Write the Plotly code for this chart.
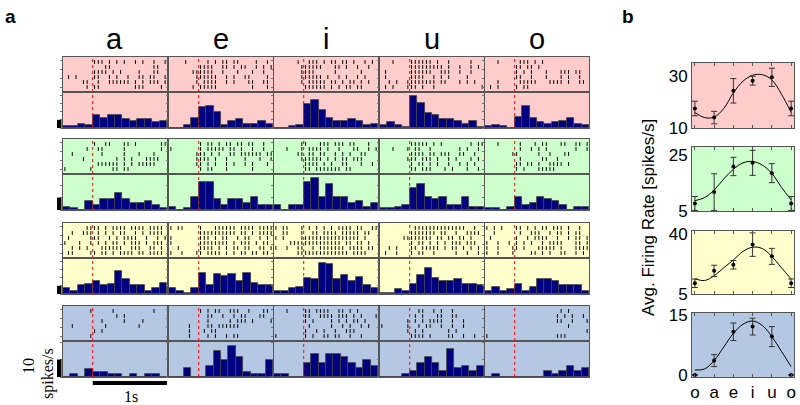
import plotly.graph_objects as go

W, H = 800, 405

vowels = ['a', 'e', 'i', 'u', 'o']
bin_centers = [-0.35, -0.25, -0.15, -0.05, 0.05, 0.15, 0.25, 0.35, 0.45, 0.55, 0.65, 0.75, 0.85, 0.95]

# PSTH (spikes/s), one list per vowel, per neuron
rate_pink = [
    [2.5, 2.5, 5.4, 3.8, 15.4, 12, 15.4, 15.4, 10.4, 8.8, 10.4, 10.4, 7.1, 8.8],
    [0, 0, 3.3, 12, 25.4, 27, 20, 3.3, 8.8, 10.4, 5, 5, 8.8, 5],
    [0, 0, 2, 3.3, 28.8, 33.8, 22, 12, 8.8, 8.8, 10.4, 8.8, 3.8, 5.4],
    [3.8, 7.1, 3.8, 1.7, 38.8, 30.4, 18.8, 15.4, 10.4, 10.4, 8.8, 5.4, 8.8, 1.7],
    [2, 3.8, 2, 0, 13.8, 27, 12, 7.1, 5.4, 7.1, 8.8, 12, 5.4, 3.8],
]
rate_green = [
    [2.8, 1.7, 0, 7.5, 4.2, 9.2, 9.2, 13.6, 9.2, 5.8, 5.8, 7.5, 4.2, 1.7],
    [2.8, 0, 1.7, 10.3, 22.8, 22.8, 9.2, 4.2, 9.2, 9.2, 5.8, 10.8, 4.2, 4.2],
    [4.2, 0, 4.2, 4.2, 22.8, 25.6, 10.3, 20.8, 10.3, 10.3, 5.8, 7.5, 2.8, 5.8],
    [1.7, 1.7, 2.8, 4.2, 18, 20.8, 10.3, 9.2, 10.8, 4.2, 4.2, 10.3, 2.8, 2.8],
    [1.7, 1.7, 0, 2.8, 10.3, 4.2, 5.8, 10.3, 9.2, 7.5, 4.2, 0, 2.8, 2.8],
]
rate_yellow = [
    [7.1, 3.3, 10.4, 12, 15.4, 10.4, 12, 27.9, 18.8, 10.4, 10.4, 4.2, 7.1, 13.8],
    [7.1, 3.3, 1.7, 7.1, 26.2, 10.4, 24.6, 22, 24.6, 15.4, 26.2, 13.8, 10.4, 10.4],
    [4.2, 4.2, 7.1, 8.8, 19.6, 18.8, 38.3, 36.7, 17.9, 22.9, 16.2, 21.2, 10.4, 7.1],
    [1.7, 1.7, 6.2, 3.3, 12, 22.9, 32, 19.6, 16.2, 15.4, 18.8, 12, 12, 10.4],
    [4.2, 8.8, 3.3, 5.8, 12, 3.3, 8.8, 17.9, 17.9, 16.2, 10.4, 10.4, 10.4, 4.2],
]
rate_blue = [
    [0, 1.6, 0, 4.5, 2.9, 2.9, 1.6, 1.6, 0, 1.6, 0, 1.6, 1.6, 0],
    [0, 0, 4.9, 0, 0, 6.5, 14.7, 9.8, 18, 11.4, 2.9, 1.6, 1.6, 9.8],
    [1.6, 1.6, 0, 0, 8.2, 13.1, 8.2, 13.1, 13.1, 11.4, 8.2, 4.9, 9.8, 6.5],
    [0, 0, 0, 1.6, 3.3, 8.2, 11.4, 8.2, 3.3, 16.3, 4.9, 6.5, 3.3, 6.5],
    [0, 1.6, 0, 0, 0, 0, 0, 0, 3.3, 1.6, 3.3, 6.5, 3.3, 4.9],
]
psth_ymax = [44, 29, 44, 20.6]

# spike rasters: 6 trials, each char = 50 ms from -0.4 s to 1.0 s, '|' = spike
raster_pink = [
    ["........|||.|.|.|..|.|..|..|", "...........||...........||..", "........||||.|.|....|...||..",
     ".|.|....||..|.|..|..||.||..|", ".....||..|..||||||.|.|.|||.|", "......|.||.........|||....|."],
    ["....|.....|.|.||.||....|..|.", "........||||..||.|.||..|.|.|", "......||||||..|...|...|..|..",
     ".......||||||..|.|..||....|.", ".......|.||||..|.|...||..||.", "......|.|||||.........|...|."],
    ["......|..|||.|.||.||.|..|.|.", ".......||||||...||.|..|..|..", ".......||||.....|......|....",
     ".......||||||.|..|.|..|.|...", ".......|.|||||.||.|.||.|.|..", "........||||||.|.|.||.||...."],
    ["...|....||||||.|..|.....|...", "........|||||||||.|..|..|.|.", ".|......||||||..|||..|..|...",
     ".|......||||..|.|.|....|....", "..|.|..||||||||.||...|.|.|..", ".|.|...|||.|..|............|"],
    ["...|.....|||.|.|............", "........||.||.|.............", "........|.|.|...|...|||.||..",
     "........||..|...|...|.|..|..", "...|.....|||||...||||.|..||.", ".|.|....|.||................"],
]
raster_green = [
    ["........|..||...||.|......||", "......|..||.....|.........|.", "..|.......|.....|...|...|...",
     ".....|........|.|.|...||||..", ".........||||||.|.|.|||||...", "|......|.....||.||.........."],
    ["........|.||.|.||.||.||..|..", "|.......|.|||||.||.|..|..|..", ".......|||.|.|..||.||||||.||",
     ".......||||.|..|....|...|..|", ".......||.|.|..|.|..|.|...|.", "........|.||...|......|....."],
    [".......||...|||.|||.||...|..", "...|...|.||||.|..|...||..|.|", "......||.||.||..|.|.|..||...",
     ".......||||||.|.|.||.|||....", "........||||.|.|..||...|..|.", "........||.|||||||.||......."],
    ["........|||||.|.|.......|.||", "...|...|.||..|.......|.|..|.", "........||||.||.|||..||..|..",
     ".......|||.|||.|..|.|...|.|.", "........|.||.|.|..|..|.|.|..", "........||.|||...|.|...|..|."],
    ["...|.....|...|.||...||..||.|", ".........|..|.|.|.......|..|", ".......||.....|..|...||.....",
     ".........|.....||..|........", "........||.||.|..||||.|.....", "........|.|...|||||........."],
]
raster_yellow = [
    ["......||||.|.||||.||||.||||.", "..|..|||.|.|.|.||..|.|.||||.", ".|.....|||..|.|.||||..|..|.|",
     "|...|..|.|.|.||.|.|||.|.|||.", "..|.|.|...||||||..|||..||.|.", ".||....||.||.|.||||.||.||||."],
    ["|.||....|...||||||.||||.||||", "........||||||||||.||.|.||||", "|.......|||.|.||..|.||..|.|.",
     "|.......||||||||.|.|||.|.||.", "..|.....||||.|.|.||.||..||.|", "|..|...||.||||.|.|.||.||.||."],
    ["|.||...|.|.|.|.|.||||.||..||", "..||...|..||.||||.|||||.||..", "|.|....||||||||||||||||.|...",
     "....||||||||||||||.||.||.|..", "|..|..||..|.|||||||.||||.||.", "......||||||||||||||.||||..."],
    [".........||||||||||||||..|..", "........|||||||.||..|..||||.", "......||||||||.||.||.||.|...",
     "........|.||.|.|.|.|||.|||..", "..|.|...||.|||||.|.||.|.|.|.", ".|..|...|.||..|.....|..|..|."],
    ["|.|.|...||.|.|.||.|||.|..|..", "..|......|..|||..|.||.|.||..", ".|......|..|.||||..|..|.||.|",
     "|..|..|.|.|.|..|.||||...||.|", "|..|...||.|...|||||.|...||||", "|..|...|....||.|.|..||..|.|."],
]
raster_blue = [
    [".......|.....|..........|...", "..............|.|...........", "..........|.....|....|......",
     "..|........|........|.......", "........|.|.................", ".......|...................."],
    ["........|.|.||..|||..|...||.", "..........||..|..|.||...||..", "..........|.....|.|||.|....|",
     ".....|....||.||||||.........", ".....|...|.||...............", ".....|....|.|..|.||........."],
    ["...|....||.||||..||.|.|.....", "........||..||||.|||.|.|...|", "........|.|....|.|.|.||.|...",
     ".........|.....|..|.|..|.|..", "........|..|.|..|..|||......", "|.......|.|..||.||..|..|...."],
    ["..........||..|.|..|........", ".........|.|...||..||.......", ".......|.|.|.||||..|..|.....",
     "|......|..|.||..|..|..|.....", ".......|.|.|......|.|.......", "........||||.|....||..|..|.."],
    ["....................|.|.....", "...................|.|.|..|.", "...................||..|...|",
     "......................|.....", "...........................|", "|..................|||......"],
]

# tuning curves (panel b)
tuning_labels = ['o', 'a', 'e', 'i', 'u', 'o']
tuning_x = [0, 1, 2, 3, 4, 5]
mean_pink = [17.5, 14, 24.3, 28.2, 29.5, 17.5]
err_pink = [2.8, 2.4, 4.7, 1.7, 3.5, 2.8]
mean_green = [7.7, 11.8, 21, 22.3, 18.6, 7.7]
err_green = [2.5, 6.6, 3.3, 4.5, 3.4, 2.5]
mean_yellow = [11.3, 18.6, 22.2, 34, 27.1, 11.3]
err_yellow = [2.5, 3.3, 2.5, 6.9, 4.7, 2.5]
mean_blue = [0, 3.6, 10.8, 12.1, 9.6, 0]
err_blue = [0, 1.5, 2.2, 2.1, 2.5, 0]
fit_x = [0, 0.5, 1, 1.5, 2, 2.5, 3, 3.5, 4, 4.5, 5]
fit_pink = [16, 14, 14.2, 17.5, 23.5, 28, 30.3, 30.5, 28.5, 23, 16]
fit_green = [8.7, 9.8, 12.5, 16.5, 20, 22.3, 22.8, 21.5, 18.5, 13.5, 9]
fit_yellow = [13.9, 12.9, 15.7, 20.4, 25, 30, 32.5, 31.7, 27, 20.4, 13.9]
fit_blue = [1.25, 1.5, 3.6, 7, 10.4, 12.7, 13.5, 12.4, 9.6, 5.9, 2.1]
tuning_ranges = [[10, 35], [5, 28], [5, 42], [-0.5, 15.5]]
tuning_ticks = [[10, 30], [5, 25], [5, 40], [0, 15]]

bg_colors = ['#FFCCCC', '#CCFFCC', '#FFFFCC', '#B4C8E4']
rates = [rate_pink, rate_green, rate_yellow, rate_blue]
rasters = [raster_pink, raster_green, raster_yellow, raster_blue]
means = [mean_pink, mean_green, mean_yellow, mean_blue]
errs = [err_pink, err_green, err_yellow, err_blue]
fits = [fit_pink, fit_green, fit_yellow, fit_blue]

# pixel geometry
col_left = [63, 169, 274, 380, 485]
col_w = 104
row_top = [57, 139, 223, 306]
b_left, b_right = 692, 794
b_top = [63, 147, 231, 313]
b_bot = [128, 211, 294, 377]

fig = go.Figure()
layout = {}
shapes = []
annotations = []
axn = [0]


def px_x(x):
    return x / W


def px_y(y):
    return 1 - y / H


def new_axes(x0, x1, y0, y1):
    axn[0] += 1
    s = '' if axn[0] == 1 else str(axn[0])
    layout['xaxis' + s] = dict(domain=[px_x(x0), px_x(x1)], anchor='y' + s)
    layout['yaxis' + s] = dict(domain=[px_y(y1), px_y(y0)], anchor='x' + s)
    return s


def label(text, x, y, size, family='Liberation Sans', angle=0):
    annotations.append(dict(text=text, x=px_x(x), y=px_y(y), xref='paper', yref='paper',
                            xanchor='center', yanchor='middle', showarrow=False, textangle=angle,
                            font=dict(size=size, family=family, color='black')))


frame = dict(showline=True, mirror=True, linecolor='#555', linewidth=1,
             showgrid=False, zeroline=False, showticklabels=False)

for r in range(4):
    top = row_top[r]
    sep = top + 35
    bot = top + 71
    for c in range(5):
        x0 = col_left[c]
        x1 = x0 + col_w
        # raster
        s = new_axes(x0, x1, top, sep)
        layout['xaxis' + s].update(frame, range=[-0.4, 1.0])
        layout['yaxis' + s].update(frame, range=[0, 7], ticks='outside', ticklen=2,
                                   tickvals=[1, 2.75, 4.5, 6.25], tickcolor='#777')
        shapes.append(dict(type='rect', xref='x' + s + ' domain', yref='y' + s + ' domain',
                           x0=0, x1=1, y0=0, y1=1, fillcolor=bg_colors[r], line_width=0, layer='below'))
        xs, ys = [], []
        for k, trial in enumerate(rasters[r][c]):
            n = len(trial)
            yk = 6 - k
            for i, ch in enumerate(trial):
                if ch == '|':
                    t = -0.4 + (i + 0.5) * 1.4 / n
                    xs += [t, t, None]
                    ys += [yk - 0.38, yk + 0.38, None]
        fig.add_trace(go.Scatter(x=xs, y=ys, mode='lines', line=dict(color='black', width=1),
                                 xaxis='x' + s, yaxis='y' + s, hoverinfo='skip', showlegend=False))
        # psth
        s2 = new_axes(x0, x1, sep, bot)
        layout['xaxis' + s2].update(frame, range=[-0.4, 1.0])
        layout['yaxis' + s2].update(frame, range=[0, psth_ymax[r]], ticks='outside', ticklen=2,
                                    tickcolor='#777', dtick=10)
        shapes.append(dict(type='rect', xref='x' + s2 + ' domain', yref='y' + s2 + ' domain',
                           x0=0, x1=1, y0=0, y1=1, fillcolor=bg_colors[r], line_width=0, layer='below'))
        fig.add_trace(go.Bar(x=bin_centers, y=rates[r][c], width=0.1,
                             marker=dict(color='#000080', line=dict(color='#444', width=0.8)),
                             xaxis='x' + s2, yaxis='y' + s2, showlegend=False))
        # stimulus onset
        shapes.append(dict(type='line', xref='x' + s2, yref='paper', x0=0, x1=0,
                           y0=px_y(bot), y1=px_y(top), line=dict(color='red', width=1, dash='dot')))
        if c == 0:
            # 10 spikes/s scale bar
            shapes.append(dict(type='rect', xref='paper', yref='y' + s2, x0=px_x(57), x1=px_x(61.5),
                               y0=0, y1=10, fillcolor='black', line_width=0))
            if r == 3:
                shapes.append(dict(type='rect', xref='x' + s2, yref='paper', x0=0, x1=1,
                                   y0=px_y(385), y1=px_y(381), fillcolor='black', line_width=0))

for c, v in enumerate(vowels):
    label(v, col_left[c] + col_w / 2, 39, 29)

# panel b
for r in range(4):
    s = new_axes(b_left, b_right, b_top[r], b_bot[r])
    layout['xaxis' + s].update(showline=True, mirror='allticks', linecolor='#555', linewidth=1,
                               showgrid=False, zeroline=False, range=[-0.15, 5.15],
                               tickvals=tuning_x, ticktext=tuning_labels, ticks='inside', ticklen=3,
                               tickcolor='#555', showticklabels=(r == 3),
                               tickfont=dict(size=17, family='Liberation Sans', color='black'))
    layout['yaxis' + s].update(showline=True, mirror=True, linecolor='#555', linewidth=1,
                               showgrid=False, zeroline=False, range=tuning_ranges[r],
                               tickvals=tuning_ticks[r], ticks='',
                               tickfont=dict(size=17, family='Liberation Sans', color='black'))
    shapes.append(dict(type='rect', xref='x' + s + ' domain', yref='y' + s + ' domain',
                       x0=0, x1=1, y0=0, y1=1, fillcolor=bg_colors[r], line_width=0, layer='below'))
    fig.add_trace(go.Scatter(x=fit_x, y=fits[r], mode='lines', line=dict(color='black', width=1, shape='spline'),
                             xaxis='x' + s, yaxis='y' + s, showlegend=False, hoverinfo='skip'))
    fig.add_trace(go.Scatter(x=tuning_x, y=means[r], mode='markers',
                             marker=dict(color='black', size=4),
                             error_y=dict(type='data', array=errs[r], color='#333', thickness=1, width=3),
                             xaxis='x' + s, yaxis='y' + s, showlegend=False, cliponaxis=False))

label('<b>a</b>', 10, 16, 19)
label('<b>b</b>', 628, 17, 19)
label('Avg. Firing Rate [spikes/s]', 648, 218, 17, angle=-90)
label('1s', 131, 396, 16, family='Liberation Serif')
label('10', 28, 366, 16, family='Liberation Serif', angle=-90)
label('spikes/s', 48, 374, 16, family='Liberation Serif', angle=-90)

fig.update_layout(
    width=W, height=H,
    margin=dict(l=0, r=0, t=0, b=0, autoexpand=False),
    paper_bgcolor='white', plot_bgcolor='white',
    bargap=0, barmode='overlay',
    shapes=shapes, annotations=annotations,
    **layout
)

fig.write_html("out.html", config={'displayModeBar': False},
               post_script="document.body.style.margin='0';")
